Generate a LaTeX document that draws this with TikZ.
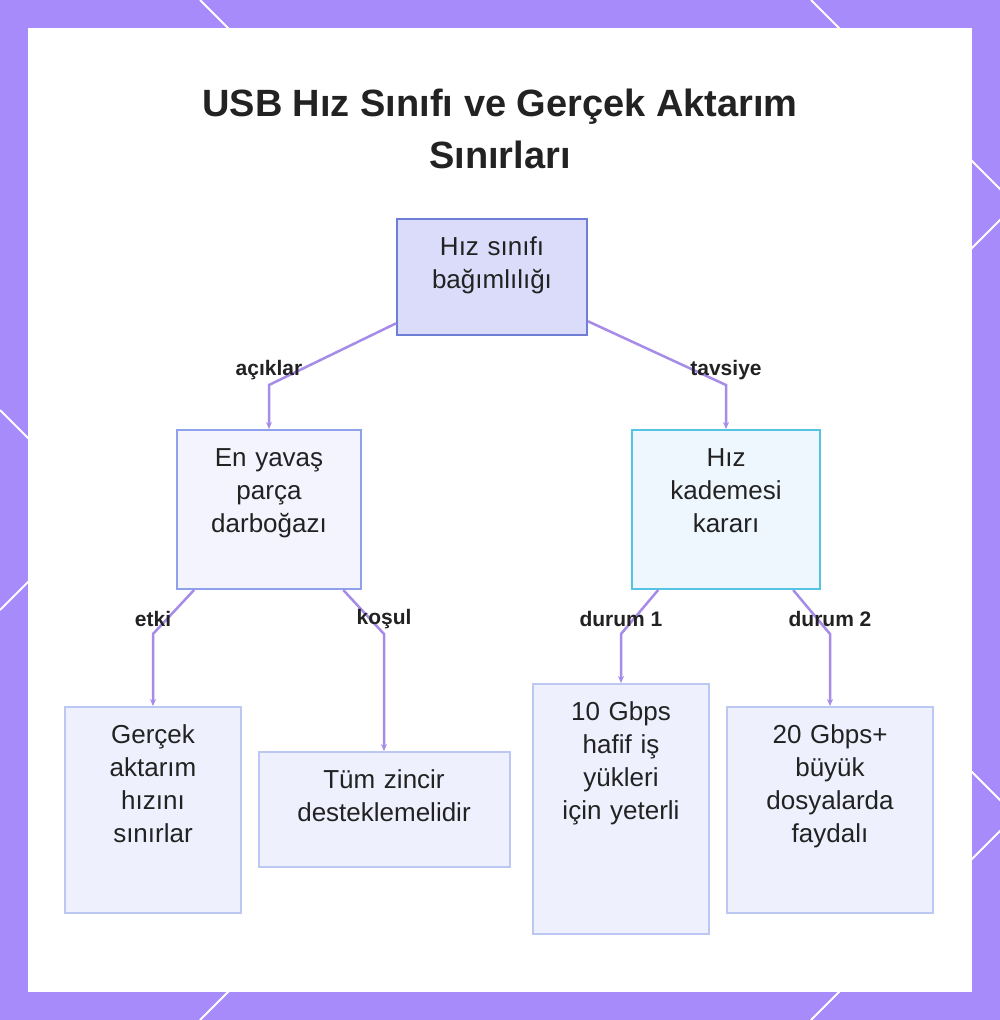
\documentclass[tikz,border=0pt]{standalone}
\usepackage{fontspec}
\setmainfont{Liberation Sans}
\usetikzlibrary{positioning, calc, arrows.meta}
\definecolor{frame}{HTML}{A78BFA}
\definecolor{ink}{HTML}{222222}
\definecolor{flow}{HTML}{A68BE8}
\definecolor{rootfill}{HTML}{DADCFA}
\definecolor{rootline}{HTML}{6E7ED6}
\definecolor{midfill}{HTML}{F3F4FE}
\definecolor{midline}{HTML}{8EA1EA}
\definecolor{pickfill}{HTML}{EEF7FE}
\definecolor{pickline}{HTML}{55C3E4}
\definecolor{leaffill}{HTML}{EEF1FD}
\definecolor{leafline}{HTML}{BCC8F2}

\begin{document}
\begin{tikzpicture}[
    x=1pt, y=-1pt,
    >={Stealth[length=7pt, width=6pt]},
    font=\fontsize{26}{33}\selectfont,
    card/.style={
        draw,
        line width=2pt,
        align=center,
        text=ink,
        inner xsep=8pt,
        inner ysep=0pt,
        text height=36pt
    },
    rootbox/.style={card, fill=rootfill, draw=rootline},
    midbox/.style={card, fill=midfill, draw=midline},
    pickbox/.style={card, fill=pickfill, draw=pickline},
    leafbox/.style={card, fill=leaffill, draw=leafline},
    heading/.style={
        align=center,
        text=ink,
        font=\fontsize{38}{52}\selectfont\bfseries
    },
    edgetag/.style={
        text=ink,
        yshift=15pt,
        font=\fontsize{21}{25}\selectfont\bfseries
    },
    flowline/.style={->, draw=flow, line width=2.5pt}
]

% frame
\fill[frame] (0,0) rectangle (1000,1020);
\begin{scope}
    \clip (0,0) rectangle (1000,1020);
    \draw[white, line width=2pt] (200,0) -- (1220,1020);
    \draw[white, line width=2pt] (811,0) -- (1831,1020);
    \draw[white, line width=2pt] (1220,0) -- (200,1020);
    \draw[white, line width=2pt] (1831,0) -- (811,1020);
    \draw[white, line width=2pt] (0,410) -- (100,510) -- (0,610);
\end{scope}
\fill[white] (28,28) rectangle (972,992);

\node[heading] (title) at (500,129) {USB Hız Sınıfı ve Gerçek Aktarım\\Sınırları};

\node[rootbox, text width=174pt, text depth=80pt] (dep) at (492,277) {Hız sınıfı\\bağımlılığı};
\node[midbox, below left=93pt and 34pt of dep, text width=168pt, text depth=123pt] (slow) {En yavaş\\parça\\darboğazı};
\node[pickbox, below right=93pt and 43pt of dep, text width=172pt, text depth=123pt] (tier) {Hız\\kademesi\\kararı};

\node[leafbox, below=116pt of slow, xshift=-116pt, text width=160pt, text depth=170pt] (real) {Gerçek\\aktarım\\hızını\\sınırlar};
\node[leafbox, below=161pt of slow, xshift=115pt, text width=235pt, text depth=79pt] (chain) {Tüm zincir\\desteklemelidir};
\node[leafbox, below=93pt of tier, xshift=-105pt, text width=160pt, text depth=214pt] (ten) {10 Gbps\\hafif iş\\yükleri\\için yeterli};
\node[leafbox, below=116pt of tier, xshift=104pt, text width=190pt, text depth=170pt] (twenty) {20 Gbps+\\büyük\\dosyalarda\\faydalı};

\coordinate (row1) at (0,385);
\coordinate (row2) at (0,634);

\draw[flowline] (dep) -- (slow |- row1) node[edgetag] {açıklar} -- (slow);
\draw[flowline] (dep) -- (tier |- row1) node[edgetag] {tavsiye} -- (tier);

\draw[flowline] (slow) -- (real |- row2) node[edgetag] {etki} -- (real);
\draw[flowline] (slow) -- (chain |- row2) node[edgetag] {koşul} -- (chain);
\draw[flowline] (tier) -- (ten |- row2) node[edgetag] {durum 1} -- (ten);
\draw[flowline] (tier) -- (twenty |- row2) node[edgetag] {durum 2} -- (twenty);

\end{tikzpicture}
\end{document}
